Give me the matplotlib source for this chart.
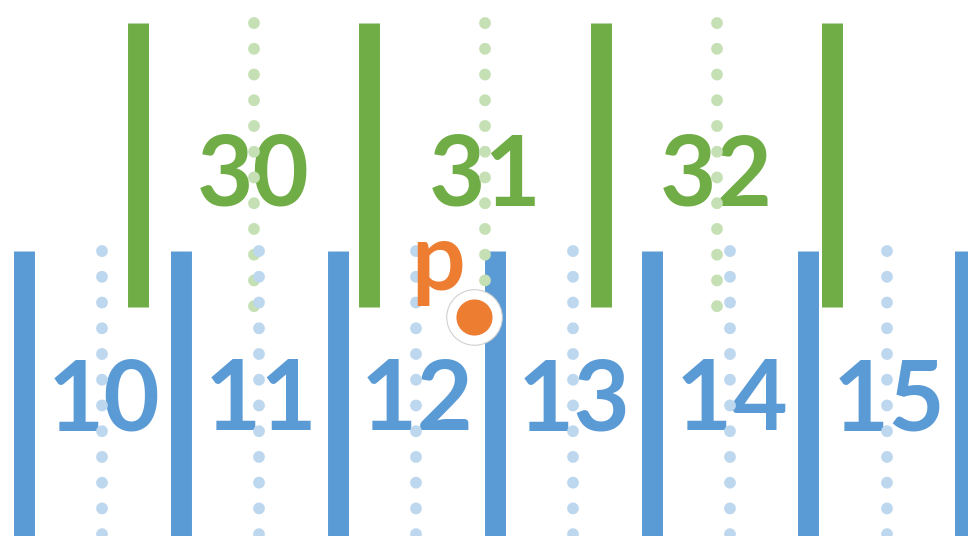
import numpy as np
import matplotlib
matplotlib.use('Agg')
import matplotlib.pyplot as plt

# 数据：下层和上层的格子
blue_edges = [0, 1, 2, 3, 4, 5, 6]
blue_labels = ['10', '11', '12', '13', '14', '15']
green_edges = [0.73, 2.20, 3.68, 5.15]
green_labels = ['30', '31', '32']
point_x, point_y = 2.87, 1.395
point_label = 'p'

BLUE = '#5B9BD5'
BLUE_L = '#BDD7EE'
GREEN = '#70AD47'
GREEN_L = '#C5E0B4'
ORANGE = '#ED7D31'

fig = plt.figure(figsize=(9.68, 5.36), dpi=100)
ax = fig.add_axes([0, 0, 1, 1])
ax.set_xlim(-0.15, 6.016)
ax.set_ylim(0, 3.414)
ax.axis('off')

blue_top = 1.815
green_lo, green_hi = 1.459, 3.268
dots = (0, (0.01, 2.17))

# 下层：蓝色实线边界 + 浅蓝色点线中心
ax.vlines(blue_edges, 0, blue_top, colors=BLUE, linewidth=15.1, zorder=2)
blue_centers = [(a + b) / 2 for a, b in zip(blue_edges[:-1], blue_edges[1:])]
for c, lab in zip(blue_centers, blue_labels):
    ax.text(c + 0.01, 0.675, lab, color=BLUE, fontsize=70, fontweight='bold',
            family='Lato', ha='center', va='baseline', zorder=3)
    # 从上往下画点线，让第一个点对齐顶端，一直画到图外
    ax.plot([c, c], [blue_top, -0.2], color=BLUE_L, linewidth=8.5,
            linestyle=dots, dash_capstyle='round', zorder=4)

# 上层：绿色实线边界 + 浅绿色点线中心
ax.vlines(green_edges, green_lo, green_hi, colors=GREEN, linewidth=15.1, zorder=2)
green_centers = [(a + b) / 2 for a, b in zip(green_edges[:-1], green_edges[1:])]
for c, lab in zip(green_centers, green_labels):
    ax.text(c, 2.108, lab, color=GREEN, fontsize=70, fontweight='bold',
            family='Lato', ha='center', va='baseline', zorder=3)
    ax.plot([c, c], [green_hi, green_lo - 0.02], color=GREEN_L, linewidth=8.5,
            linestyle=dots, dash_capstyle='round', zorder=3.5)

# 点 p
ax.plot(point_x, point_y, 'o', markersize=40, markerfacecolor='white',
        markeredgecolor='#D0D0D0', markeredgewidth=0.8, zorder=5)
ax.plot(point_x, point_y, 'o', markersize=25, color=ORANGE, zorder=6)
ax.text(2.64, 1.567, point_label, color=ORANGE, fontsize=68,
        fontweight='bold', family='Lato', ha='center', va='baseline', zorder=7)

plt.savefig('out.png', dpi=100)
